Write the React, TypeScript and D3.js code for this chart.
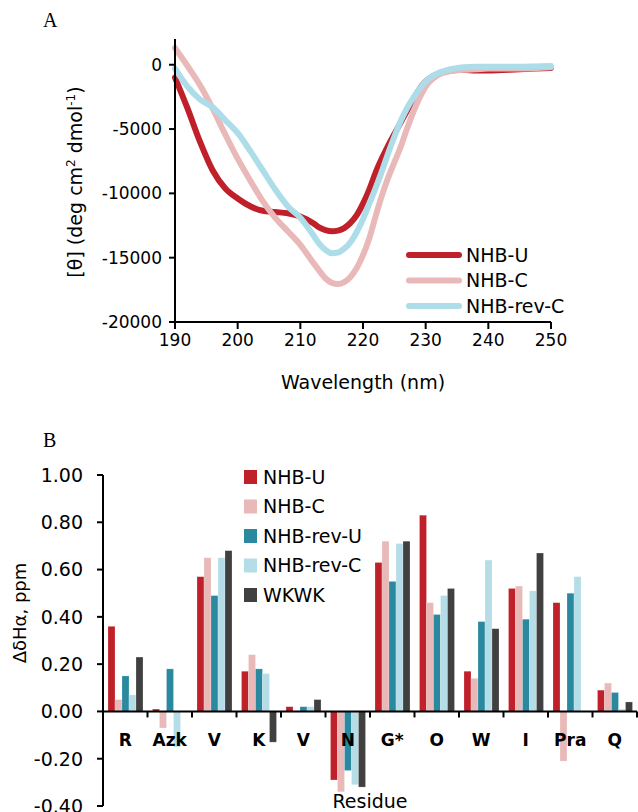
import React from 'react';
import * as d3 from 'd3';

// Panel A: CD spectra
const wavelengths = [190, 192, 194, 196, 198, 200, 202, 204, 206, 208, 210, 212, 213, 214, 215, 216, 217, 218, 219, 220, 221, 222, 223, 224, 225, 226, 227, 228, 229, 230, 232, 234, 236, 238, 240, 245, 250];
const nhbU = [-1000, -3400, -6000, -8200, -9600, -10400, -11000, -11350, -11450, -11550, -11800, -12300, -12650, -12850, -12950, -12900, -12700, -12300, -11700, -10800, -9700, -8400, -7300, -6300, -5400, -4500, -3600, -2700, -1900, -1300, -700, -450, -400, -450, -450, -350, -250];
const nhbC = [1300, -100, -1600, -3400, -5400, -7300, -9000, -10600, -11900, -12950, -14000, -15350, -16000, -16600, -16950, -17050, -16900, -16500, -15800, -14800, -13500, -11800, -10200, -8800, -7600, -6400, -5000, -3700, -2600, -1700, -800, -500, -400, -350, -300, -300, -200];
const nhbRevC = [-300, -1700, -2700, -3300, -4300, -5300, -6700, -8200, -9700, -11000, -11900, -13200, -13900, -14400, -14650, -14600, -14300, -13800, -13000, -12000, -10800, -9600, -8300, -6900, -5600, -4400, -3400, -2600, -1900, -1300, -650, -350, -200, -150, -150, -150, -100];
const cdNames = ['NHB-U', 'NHB-C', 'NHB-rev-C'];
const cdColors = ['#c0202a', '#e8b9b8', '#addde9'];
const cdTicksY = [0, -5000, -10000, -15000, -20000];
const cdTicksX = [190, 200, 210, 220, 230, 240, 250];

// Panel B: chemical shift deviations
const residues = ['R', 'Azk', 'V', 'K', 'V', 'N', 'G*', 'O', 'W', 'I', 'Pra', 'Q'];
const peptideNames = ['NHB-U', 'NHB-C', 'NHB-rev-U', 'NHB-rev-C', 'WKWK'];
const peptideColors = ['#c0202a', '#e8b9b8', '#2a889f', '#b5dde8', '#404040'];
const shiftNhbU = [0.36, 0.01, 0.57, 0.17, 0.02, -0.29, 0.63, 0.83, 0.17, 0.52, 0.46, 0.09];
const shiftNhbC = [0.05, -0.07, 0.65, 0.24, 0.0, -0.34, 0.72, 0.46, 0.14, 0.53, -0.21, 0.12];
const shiftRevU = [0.15, 0.18, 0.49, 0.18, 0.02, -0.25, 0.55, 0.41, 0.38, 0.39, 0.5, 0.08];
const shiftRevC = [0.07, -0.15, 0.65, 0.16, 0.02, -0.31, 0.71, 0.49, 0.64, 0.51, 0.57, 0.01];
const shiftWkwk = [0.23, 0, 0.68, -0.13, 0.05, -0.32, 0.72, 0.52, 0.35, 0.67, 0, 0.04];
const shiftTicks = [1.0, 0.8, 0.6, 0.4, 0.2, 0.0, -0.2, -0.4];

const FONT = 'DejaVu Sans, Open Sans, sans-serif';

function PanelA() {
  const x = d3.scaleLinear().domain([190, 250]).range([175, 551]);
  const y = d3.scaleLinear().domain([-20000, 2000]).range([322, 39]);
  const series = [nhbU, nhbC, nhbRevC];
  const line = d3
    .line<number>()
    .x((d, i) => x(wavelengths[i]))
    .y((d) => y(d))
    .curve(d3.curveMonotoneX);

  return (
    <g>
      <text x={43} y={27} fontFamily="Liberation Serif, serif" fontSize={20}>A</text>
      {series.map((s, k) => (
        <path key={k} d={line(s) || ''} fill="none" stroke={cdColors[k]} strokeWidth={6} strokeLinejoin="round" strokeLinecap="round" />
      ))}
      {/* axes */}
      <line x1={x(190)} x2={x(190)} y1={y(2000)} y2={y(-20000)} stroke="#000" strokeWidth={2} />
      <line x1={x(190)} x2={x(250)} y1={y(-20000)} y2={y(-20000)} stroke="#000" strokeWidth={2} />
      {cdTicksY.map((t) => (
        <g key={t}>
          <line x1={x(190) - 6} x2={x(190)} y1={y(t)} y2={y(t)} stroke="#000" strokeWidth={2} />
          <text x={x(190) - 13} y={y(t)} dy="0.35em" textAnchor="end" fontFamily={FONT} fontSize={17}>
            {t === 0 ? '0' : '-' + Math.abs(t)}
          </text>
        </g>
      ))}
      {cdTicksX.map((t) => (
        <g key={t}>
          <line x1={x(t)} x2={x(t)} y1={y(-20000)} y2={y(-20000) + 7} stroke="#000" strokeWidth={2} />
          <text x={x(t)} y={346} textAnchor="middle" fontFamily={FONT} fontSize={17}>{t}</text>
        </g>
      ))}
      <text x={363} y={389} textAnchor="middle" fontFamily={FONT} fontSize={19}>Wavelength (nm)</text>
      <text transform="translate(82,182) rotate(-90)" textAnchor="middle" fontFamily={FONT} fontSize={19}>
        [θ] (deg cm<tspan dy={-7} fontSize={12}>2</tspan><tspan dy={7}> dmol</tspan><tspan dy={-7} fontSize={12}>-1</tspan><tspan dy={7}>)</tspan>
      </text>
      {/* legend */}
      {cdNames.map((n, k) => (
        <g key={n} transform={`translate(0,${255 + k * 25.5})`}>
          <line x1={409} x2={459} y1={0} y2={0} stroke={cdColors[k]} strokeWidth={6} strokeLinecap="round" />
          <text x={466} y={0} dy="0.36em" fontFamily={FONT} fontSize={19}>{n}</text>
        </g>
      ))}
    </g>
  );
}

function PanelB() {
  const keys = residues.map((r, i) => r + i);
  const x0 = d3.scaleBand<string>().domain(keys).range([103, 637]).padding(0);
  const bw = x0.bandwidth();
  const x1 = d3.scaleBand<string>().domain(peptideNames).range([5, bw - 4.5]).padding(0);
  const y = d3.scaleLinear().domain([-0.4, 1.0]).range([806, 475]);
  const values = [shiftNhbU, shiftNhbC, shiftRevU, shiftRevC, shiftWkwk];

  return (
    <g>
      <text x={43} y={447} fontFamily="Liberation Serif, serif" fontSize={20}>B</text>
      {keys.map((key, i) => (
        <g key={key} transform={`translate(${x0(key)},0)`}>
          {values.map((vals, k) => {
            const v = vals[i];
            return (
              <rect
                key={k}
                x={x1(peptideNames[k])}
                width={x1.bandwidth()}
                y={Math.min(y(v), y(0))}
                height={Math.abs(y(v) - y(0))}
                fill={peptideColors[k]}
                stroke="#fff"
                strokeOpacity={0.35}
                strokeWidth={0.6}
              />
            );
          })}
        </g>
      ))}
      {/* axes */}
      <line x1={103} x2={103} y1={y(1.0)} y2={y(-0.4)} stroke="#000" strokeWidth={2} />
      <line x1={103} x2={637} y1={y(0)} y2={y(0)} stroke="#000" strokeWidth={2} />
      {shiftTicks.map((t) => (
        <g key={t}>
          <line x1={97} x2={103} y1={y(t)} y2={y(t)} stroke="#000" strokeWidth={2} />
          <text x={83} y={y(t)} dy="0.36em" textAnchor="end" fontFamily={FONT} fontSize={19}>
            {t < 0 ? '-' + Math.abs(t).toFixed(2) : t.toFixed(2)}
          </text>
        </g>
      ))}
      {keys.map((key) => (
        <line key={key} x1={(x0(key) || 0) + bw} x2={(x0(key) || 0) + bw} y1={y(0)} y2={y(0) + 6} stroke="#000" strokeWidth={2} />
      ))}
      {keys.map((key, i) => (
        <text key={key} x={(x0(key) || 0) + bw / 2} y={746} textAnchor="middle" fontFamily={FONT} fontWeight="bold" fontSize={17}>
          {residues[i]}
        </text>
      ))}
      <text x={370} y={808} textAnchor="middle" fontFamily={FONT} fontSize={19}>Residue</text>
      <text transform="translate(26,613) rotate(-90)" textAnchor="middle" fontFamily={FONT} fontSize={18}>ΔδHα, ppm</text>
      {/* legend */}
      {peptideNames.map((n, k) => (
        <g key={n} transform={`translate(0,${477 + k * 29.5})`}>
          <rect x={244} y={-7} width={13} height={14} fill={peptideColors[k]} />
          <text x={263} y={0} dy="0.36em" fontFamily={FONT} fontSize={19}>{n}</text>
        </g>
      ))}
    </g>
  );
}

export default function App() {
  return (
    <svg width={638} height={812} style={{ position: 'absolute', left: 0, top: 0, background: '#fff' }}>
      <rect width={638} height={812} fill="#fff" />
      <PanelA />
      <PanelB />
    </svg>
  );
}
